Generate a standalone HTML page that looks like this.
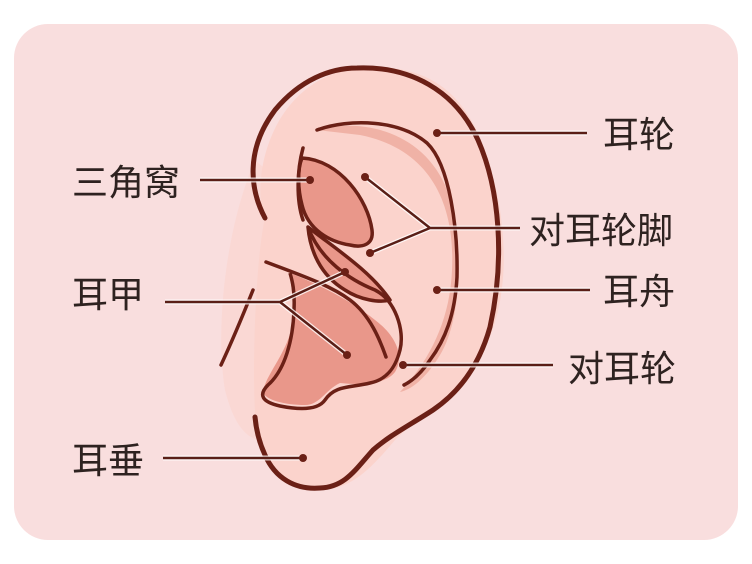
<!DOCTYPE html>
<html><head><meta charset="utf-8"><style>
html,body{margin:0;padding:0;background:#fff}
svg{display:block}
text{font-family:"Liberation Sans","Noto Sans CJK SC",sans-serif;font-size:36px;fill:#2e2220}
</style></head><body>
<svg width="752" height="564" viewBox="0 0 752 564" xmlns="http://www.w3.org/2000/svg">
<rect x="14" y="24" width="724" height="516" rx="34" fill="#f9dede"/>
<path d="M255,160 C225,230 215,330 225,390 C235,430 250,440 262,440 L300,440 L300,200 Z" fill="#fbd6d0" opacity="0.7"/>
<path d="M265,218 C250,180 270,80 357,68 C430,62 480,90 500,210 C510,280 500,330 468,380 C450,400 420,415 395,440 C370,470 350,490 320,490 C290,490 268,470 258,440 C250,400 255,260 265,218 Z" fill="#fbd3cc"/>
<path d="M317,130 C360,118 420,130 445,185 C465,240 462,320 440,355 C425,380 410,390 400,392 C430,360 450,320 452,270 C455,210 435,150 360,135 Z" fill="#eeaa9c" opacity="0.8"/>
<path d="M265,218 C250,190 245,150 275,110 C300,80 330,68 357,68 C410,66 455,90 478,140 C500,190 505,260 490,327 C478,370 455,395 433,410 C410,425 390,435 373,450 C355,470 345,487 320,488 C295,490 275,478 265,455 C258,440 256,428 255,417" fill="none" stroke="#6b2016" stroke-width="5" stroke-linecap="round"/>
<path d="M317,130 C350,118 400,120 427,143 C450,165 458,230 457,277 C455,315 445,340 430,360 C420,375 410,382 404,385" fill="none" stroke="#6b2016" stroke-width="3.5" stroke-linecap="round"/>
<path d="M302,158 C340,160 368,200 372,230 C374,245 362,248 350,245 C330,242 308,230 302,205 C298,190 297,170 302,158 Z" fill="#e9978a" stroke="#6b2016" stroke-width="3.5"/>
<path d="M303,148 C297,170 296,200 303,220" fill="none" stroke="#6b2016" stroke-width="3.5" stroke-linecap="round"/>
<path d="M308,227 C330,245 370,270 390,300 C380,303 360,300 345,290 C320,275 310,250 308,227 Z" fill="#e9978a" stroke="#6b2016" stroke-width="3.5" stroke-linejoin="round"/>
<path d="M290,273 C320,285 350,300 375,320 C395,335 405,355 395,372 C385,385 360,385 340,383 C325,390 320,405 305,405 C285,405 265,400 263,392 C265,375 290,350 293,320 C295,300 290,285 290,273 Z" fill="#e9978a"/>
<path d="M266,262 C300,275 330,285 350,300 C370,315 380,340 386,357" fill="none" stroke="#6b2016" stroke-width="3.5" stroke-linecap="round"/>
<path d="M308,227 C320,260 350,280 375,290 C395,300 405,330 400,350 C395,370 385,380 370,383 C350,388 335,385 325,400 C318,410 300,410 280,406 C262,402 258,395 268,385 C285,370 293,340 294,310 C295,290 292,280 290,273" fill="none" stroke="#6b2016" stroke-width="3.5" stroke-linejoin="round"/>
<path d="M253,290 C245,310 235,335 221,365" fill="none" stroke="#6b2016" stroke-width="3.5" stroke-linecap="round"/>
<g stroke="#fff" stroke-width="5" fill="none" opacity="0.8">
<path d="M437,133 H587 M200,180 H310 M365,177 L430,228 H520 M370,253 L430,228 M165,302 H280 L345,272 M280,302 L347,355 M437,290 H590 M403,365 H553 M163,458 H303"/>
</g>
<g stroke="#5a1e16" stroke-width="2.5" fill="none">
<path d="M437,133 H587 M200,180 H310 M365,177 L430,228 H520 M370,253 L430,228 M165,302 H280 L345,272 M280,302 L347,355 M437,290 H590 M403,365 H553 M163,458 H303"/>
</g>
<g fill="#6b2016">
<circle cx="437" cy="133" r="4"/><circle cx="310" cy="180" r="4"/><circle cx="365" cy="177" r="4"/><circle cx="370" cy="253" r="4"/><circle cx="345" cy="272" r="4"/><circle cx="347" cy="355" r="4"/><circle cx="437" cy="290" r="4"/><circle cx="403" cy="365" r="4"/><circle cx="303" cy="458" r="4"/>
</g>
<text x="603" y="147">耳轮</text>
<text x="72" y="195">三角窝</text>
<text x="529" y="243">对耳轮脚</text>
<text x="72" y="307">耳甲</text>
<text x="603" y="304">耳舟</text>
<text x="568" y="381">对耳轮</text>
<text x="72" y="473">耳垂</text>
</svg>
</body></html>
